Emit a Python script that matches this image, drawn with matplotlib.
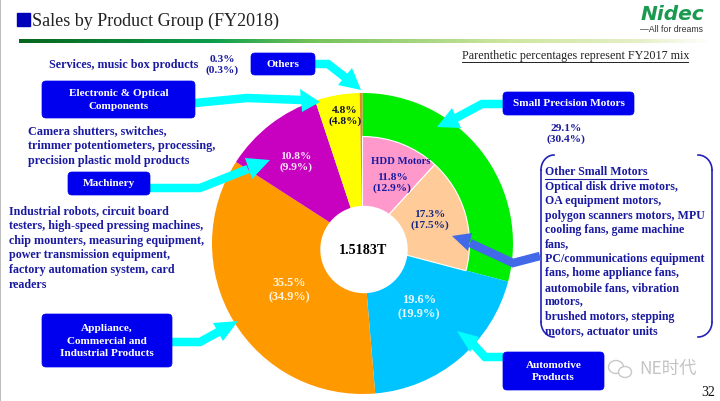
import matplotlib
matplotlib.use('Agg')
import matplotlib.pyplot as plt
from matplotlib.patches import FancyBboxPatch, Polygon, Rectangle, Ellipse, Circle
import numpy as np

# FY2018 mix, clockwise from 12 o'clock
grupos = ['Small Precision Motors', 'Automotive Products', 'Appliance, Commercial and Industrial Products',
          'Machinery', 'Electronic & Optical Components', 'Others']
mix_2018 = [29.1, 19.6, 35.5, 10.8, 4.8, 0.3]
mix_2017 = [30.4, 19.9, 34.9, 9.9, 4.8, 0.3]
colores = ['#00ee00', '#00c4ff', '#ff9900', '#c800c0', '#ffff00', '#d89020']

# small precision motors split
motores = ['HDD Motors', 'Other Small Motors']
motores_2018 = [11.8, 17.3]
motores_2017 = [12.9, 17.5]
colores_motores = ['#ff99cc', '#ffcc99']

total_ventas = '1.5183T'

AZUL = '#0000ee'
TEXTO = '#1a1aa0'
CIAN = '#00ffff'
SERIF = 'Liberation Serif'
ALTO = 401


def y_px(y):
    return ALTO - y


fig = plt.figure(figsize=(7.2, 4.01), dpi=100)
ax = fig.add_axes([0, 0, 1, 1])

########################################################################
            # Pie

centro = (362.5, y_px(243.5))
ax.pie(mix_2018, colors=colores, startangle=90, counterclock=False, radius=150.5, center=centro, frame=True)
ax.pie([v / 100 for v in motores_2018], colors=colores_motores, startangle=90, counterclock=False,
       radius=107, center=centro, frame=True, normalize=False,
       wedgeprops={'edgecolor': 'white', 'linewidth': 0.8})
ax.add_patch(Circle((364, y_px(249.5)), 43, color='white', zorder=3))
ax.text(363.5, y_px(250), total_ventas, fontsize=10.2, fontweight='bold', family=SERIF, ha='center', va='center', zorder=4)


def etiqueta(x, y, actual, previo, color, size=8.2):
    ax.text(x, y_px(y), f'{actual:.1f}%\n({previo:.1f}%)', color=color, fontsize=size, fontweight='bold', family=SERIF,
            ha='center', va='center', linespacing=1.3, zorder=5)


etiqueta(296, 162, mix_2018[3], mix_2017[3], '#f8e8f8')
etiqueta(345, 116, mix_2018[4], mix_2017[4], '#111133')
etiqueta(289, 290, mix_2018[2], mix_2017[2], '#fff4e0', size=8.8)
etiqueta(419, 307, mix_2018[1], mix_2017[1], '#e8f8ff', size=9)
etiqueta(392, 183, motores_2018[0], motores_2017[0], TEXTO)
etiqueta(430, 220, motores_2018[1], motores_2017[1], '#1a2a80')
etiqueta(566, 134, mix_2018[0], mix_2017[0], TEXTO)
etiqueta(222, 65, mix_2018[5], mix_2017[5], TEXTO)
ax.text(401, y_px(162), motores[0], color=TEXTO, fontsize=7.7, fontweight='bold', family=SERIF, ha='center', va='center', zorder=5)


########################################################################
            # Flechas y cajas

def flecha(puntos, punta, base_a, base_b, ancho=8.5, color=CIAN):
    xs = [p[0] for p in puntos]
    ys = [y_px(p[1]) for p in puntos]
    ax.plot(xs, ys, color=color, lw=ancho * 0.72, solid_capstyle='butt', solid_joinstyle='miter', zorder=6)
    cabeza = [(p[0], y_px(p[1])) for p in (base_a, punta, base_b)]
    ax.add_patch(Polygon(cabeza, closed=True, color=color, lw=0, zorder=7))


flecha([(315, 64), (328, 64), (346, 78)], (361, 90), (352, 68), (338, 85))
flecha([(195, 103), (247, 98), (302, 100)], (320, 102), (300, 89), (302, 112))
flecha([(150, 188), (200, 188), (248, 169)], (270, 160), (245, 158), (252, 179))
flecha([(172, 342), (200, 342), (220, 331)], (238, 321), (213, 323), (223, 341))
flecha([(503, 357), (485, 357), (473, 344)], (457, 331), (479, 337), (470, 352))
flecha([(503, 104), (482, 104), (456, 118)], (437, 127), (452, 108), (461, 128))
flecha([(540, 256), (513, 263), (470, 243)], (452, 236), (472, 233), (468, 251), color='#4169e8')


def caja(x0, y0, x1, y1, texto, size=8.1):
    r = 4
    ax.add_patch(FancyBboxPatch((x0 + r, y_px(y1) + r), x1 - x0 - 2 * r, y1 - y0 - 2 * r,
                                boxstyle=f'round,pad={r},rounding_size={r}', fc=AZUL, ec=AZUL, lw=0.5, zorder=8))
    ax.text((x0 + x1) / 2, y_px((y0 + y1) / 2 + 0.5), texto, color='white', fontsize=size, fontweight='bold', family=SERIF,
            ha='center', va='center', linespacing=1.45, zorder=9)


caja(251, 53, 315, 75, 'Others')
caja(42, 81, 195, 118, 'Electronic & Optical\nComponents')
caja(68, 172, 150, 195, 'Machinery')
caja(42, 314, 172, 367, 'Appliance,\nCommercial and\nIndustrial Products')
caja(503, 92, 634, 115, 'Small Precision Motors')
caja(503, 352, 604, 390, 'Automotive\nProducts')

########################################################################
            # Textos

ax.text(49, y_px(65), 'Services, music box products', color=TEXTO, fontsize=8.7, fontweight='bold', family=SERIF, va='center')
ax.text(28, y_px(146), 'Camera shutters, switches,\ntrimmer potentiometers, processing,\nprecision plastic mold products',
        color=TEXTO, fontsize=8.75, fontweight='bold', family=SERIF, va='center', linespacing=1.28)
ax.text(9, y_px(248), 'Industrial robots, circuit board\ntesters, high-speed pressing machines,\nchip mounters, measuring equipment,\n'
        'power transmission equipment,\nfactory automation system, card\nreaders',
        color=TEXTO, fontsize=8.65, fontweight='bold', family=SERIF, va='center', linespacing=1.32)

otros = ['Optical disk drive motors,', 'OA equipment motors,', 'polygon scanners motors, MPU', 'cooling fans, game machine',
         'fans,', 'PC/communications equipment', 'fans, home appliance fans,', 'automobile fans, vibration', 'motors,',
         'brushed motors, stepping', 'motors, actuator units']
ax.text(545, y_px(172), 'Other Small Motors', color=TEXTO, fontsize=8.55, fontweight='bold', family=SERIF, va='center', zorder=5)
ax.plot([545, 648], [y_px(179), y_px(179)], color=TEXTO, lw=0.8)
for i, linea in enumerate(otros):
    ax.text(545, y_px(187 + i * 14.4), linea, color=TEXTO, fontsize=8.55, fontweight='bold', family=SERIF, va='center', zorder=5)

# corchete redondeado
t = np.linspace(0, np.pi / 2, 20)
ax.plot(554 - 13 * np.sin(t), y_px(155 + 15 - 15 * np.cos(t)), color='#2222bb', lw=1.2)
ax.plot(698 + 14 * np.sin(t), y_px(155 + 15 - 15 * np.cos(t)), color='#2222bb', lw=1.2)
ax.plot(541 + 13 - 13 * np.sin(t), y_px(337 - 15 + 15 * np.cos(t)), color='#2222bb', lw=1.2)
ax.plot(698 + 14 * np.sin(t), y_px(337 - 15 + 15 * np.cos(t)), color='#2222bb', lw=1.2)
ax.plot([541, 541], [y_px(170), y_px(322)], color='#2222bb', lw=1.2)
ax.plot([712, 712], [y_px(170), y_px(322)], color='#2222bb', lw=1.2)

# titulo
ax.add_patch(Rectangle((17, y_px(26)), 13, 13, color='#0000bb'))
ax.text(32, y_px(21), 'Sales by Product Group (FY2018)', fontsize=13, family=SERIF, color='#222222', va='center')
barra = np.array([[0.03, 0.40, 0.12], [0.05, 0.62, 0.30], [0.45, 0.76, 0.35], [0.80, 0.90, 0.62], [0.90, 0.94, 0.78], [1, 1, 1]])
pos = np.array([0, 0.28, 0.42, 0.7, 0.9, 1.0])
mapa = np.stack([np.interp(np.linspace(0, 1, 400), pos, barra[:, c]) for c in range(3)], axis=-1)[np.newaxis, :, :]
ax.imshow(mapa, extent=(19, 710, y_px(43.5), y_px(39.5)), aspect='auto', zorder=1)

ax.text(462, y_px(56), 'Parenthetic percentages represent FY2017 mix', fontsize=8.7, family=SERIF, color='#222222', va='center')
ax.plot([462, 688], [y_px(62), y_px(62)], color='#222222', lw=0.7)

# logo
ax.text(672.5, y_px(14.5), 'Nidec', fontsize=14.5, fontweight='bold', style='italic', family='DejaVu Sans', color='#1a9a50', ha='center', va='center')
ax.text(672, y_px(29), '\u2014All for dreams', fontsize=6.3, family='Liberation Sans', color='#333333', ha='center', va='center')

# marca de agua
ax.add_patch(Ellipse((616, y_px(367)), 15, 13, fc='none', ec='#c8c8c8', lw=1, zorder=5))
ax.add_patch(Ellipse((625, y_px(372)), 13, 11, fc='white', ec='#c8c8c8', lw=1, zorder=5))
ax.text(668, y_px(369), 'NE时代', fontsize=12.5, family=['Noto Sans CJK SC', 'DejaVu Sans'], color='#c4c4c4', ha='center', va='center')
ax.text(708, y_px(392), '32', fontsize=10, family=SERIF, color='#111111', ha='center', va='center')

# borde gris izquierdo
ax.add_patch(Rectangle((0, 0), 1.2, ALTO, color='#bdbdbd', lw=0, zorder=10))

ax.set_xlim(0, 720)
ax.set_ylim(0, ALTO)
ax.axis('off')
fig.savefig('out.png', dpi=100)
plt.close('all')
